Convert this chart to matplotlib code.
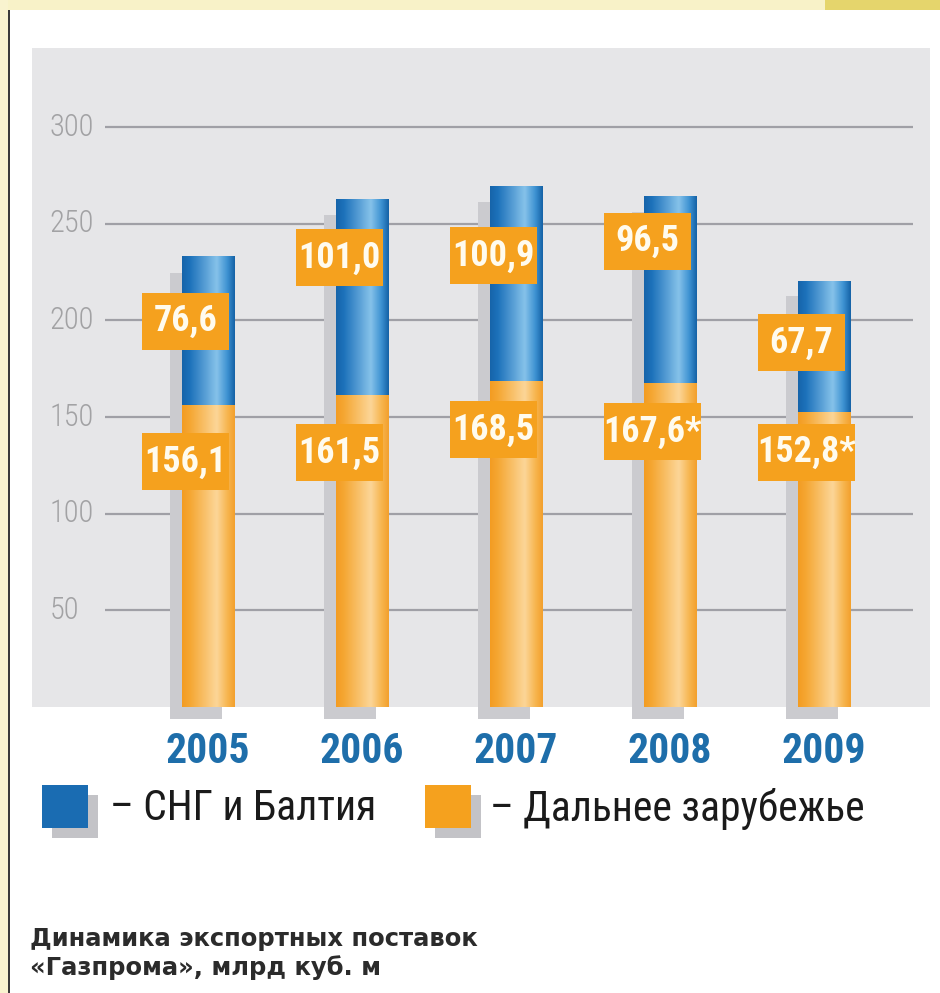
import numpy as np
import matplotlib
matplotlib.use("Agg")
import matplotlib.pyplot as plt
from matplotlib import font_manager as fm
from matplotlib.patches import Rectangle
from matplotlib.colors import LinearSegmentedColormap

# data: Gazprom export, bcm
years = ["2005", "2006", "2007", "2008", "2009"]
far_abroad = [156.1, 161.5, 168.5, 167.6, 152.8]
cis_baltic = [76.6, 101.0, 100.9, 96.5, 67.7]
far_labels = ["156,1", "161,5", "168,5", "167,6*", "152,8*"]
cis_labels = ["76,6", "101,0", "100,9", "96,5", "67,7"]
yticks = [50, 100, 150, 200, 250, 300]

# layout: where the label boxes sit relative to segment tops
cis_label_off = [-33, -30, -36, -23, -32]
far_label_off = [-29, -30, -25, -25, -21]

W, H = 940, 993
ORANGE = "#F5A11E"
BLUE = "#1a6cb2"

# pick a condensed face if there is one
have = {f.name for f in fm.fontManager.ttflist}
prefs = ["Roboto Condensed", "PT Sans Narrow", "Archivo Narrow", "Liberation Sans Narrow",
         "Sofia Sans Condensed", "Open Sans Condensed"]
NARROW = [n for n in prefs if n in have][:1] + ["DejaVu Sans"]

blue_cmap = LinearSegmentedColormap.from_list(
    "b", [(0, "#1664aa"), (0.15, "#1d72bb"), (0.66, "#86c2ea"), (0.86, "#3d92d2"), (1, "#1562a6")])
orange_cmap = LinearSegmentedColormap.from_list(
    "o", [(0, "#f39c22"), (0.15, "#f5a733"), (0.66, "#fcd698"), (0.86, "#f7b650"), (1, "#f3a02c")])


def px(x, y):
    return x / W, 1 - y / H


def gradient_bar(ax, x, bottom, height, width, cmap):
    grad = np.linspace(0, 1, 128)[None, :]
    ax.imshow(grad, cmap=cmap, aspect="auto", interpolation="bicubic",
              extent=(x - width / 2, x + width / 2, bottom, bottom + height), zorder=3)


fig = plt.figure(figsize=(W / 100, H / 100), dpi=100)
fig.patch.set_facecolor("white")

# page decoration (top yellow strip, left edge)
fig.add_artist(Rectangle(px(0, 10), 1, 10 / H, transform=fig.transFigure, color="#f8f2c8", lw=0))
fig.add_artist(Rectangle(px(825, 10), 115 / W, 10 / H, transform=fig.transFigure, color="#e5d56c", lw=0))
fig.add_artist(Rectangle(px(0, H), 8 / W, 1, transform=fig.transFigure, color="#f9f3cf", lw=0))
fig.add_artist(Rectangle(px(8, H), 1.5 / W, 1 - 10 / H, transform=fig.transFigure, color="#3a3a3a", lw=0))

left, top, right, bottom = 32, 48, 930, 707
ax = fig.add_axes([left / W, 1 - bottom / H, (right - left) / W, (bottom - top) / H])
ax.set_facecolor("#e6e6e8")
for s in ax.spines.values():
    s.set_visible(False)

x = np.arange(len(years))
bw = 0.338

ax.hlines(yticks, -0.67, 4.58, color="#a0a0a6", lw=1.6, zorder=1)
for t in yticks:
    ax.text(-1.03, t, str(t), ha="left", va="center", fontsize=22, fontweight="light",
            color="#a2a2a4", family=NARROW, zorder=1)

for i in x:
    total = far_abroad[i] + cis_baltic[i]
    # shadow
    ax.add_patch(Rectangle((i - bw / 2 - 0.078, -6), bw, total - 8 + 6,
                           color="#cbcbcf", lw=0, zorder=2, clip_on=False))
    gradient_bar(ax, i, 0, far_abroad[i], bw, orange_cmap)
    gradient_bar(ax, i, far_abroad[i], cis_baltic[i], bw, blue_cmap)

    for val, off, lab in [(total, cis_label_off[i], cis_labels[i]),
                          (far_abroad[i], far_label_off[i], far_labels[i])]:
        bwid = 0.63 if "*" in lab else 0.565
        cy = val + off
        ax.add_patch(Rectangle((i - 0.43, cy - 14.75), bwid, 29.5,
                               color=ORANGE, lw=0, zorder=4))
        ax.text(i - 0.43 + bwid / 2, cy, lab, ha="center", va="center",
                fontsize=26, fontweight="bold", color="#fffbee", family=NARROW, zorder=5)

ax.set_xlim(-1.143, 4.688)
ax.set_ylim(0, 341)
ax.set_yticks([])
ax.set_xticks(x)
ax.set_xticklabels(years, fontsize=30, fontweight="bold", color="#1e6eaa", family=NARROW)
ax.tick_params(axis="x", length=0, pad=17)

# legend
for sx, col, text, tx in [(42, BLUE, "– СНГ и Балтия", 110),
                          (425, ORANGE, "– Дальнее зарубежье", 490)]:
    fig.add_artist(Rectangle(px(sx + 10, 838), 46 / W, 43 / H, transform=fig.transFigure,
                             color="#c3c3c7", lw=0))
    fig.add_artist(Rectangle(px(sx, 828), 46 / W, 43 / H, transform=fig.transFigure,
                             color=col, lw=0))
    fig.text(*px(tx, 809), text, ha="left", va="center", fontsize=30,
             color="#1a1a1a", family=NARROW)

fig.text(*px(30, 939), "Динамика экспортных поставок", ha="left", va="center",
         fontsize=17.5, fontweight="bold", color="#2b2b2b")
fig.text(*px(30, 968), "«Газпрома», млрд куб. м", ha="left", va="center",
         fontsize=17.5, fontweight="bold", color="#2b2b2b")

fig.savefig("out.png", dpi=100)
